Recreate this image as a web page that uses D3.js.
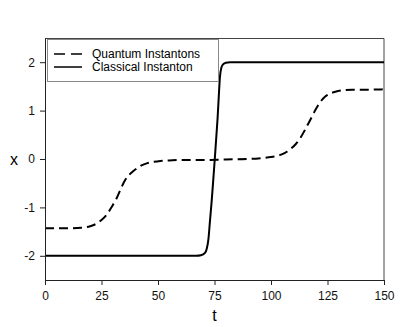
<!DOCTYPE html>
<html>
<head>
<meta charset="utf-8">
<script src="https://cdn.jsdelivr.net/npm/d3@7"></script>
<style>
  body { margin: 0; background: #fff; }
  svg { font-family: "Liberation Sans", Arial, sans-serif; }
</style>
</head>
<body>
<svg id="chart" width="418" height="327"></svg>
<script>
// values
const quantumT = [0, 10, 16, 20, 23, 25, 27.3, 29.5, 31.7, 33.5, 35.4, 37.2, 39.1, 42, 45, 48, 51, 55, 60, 70, 80, 90, 96, 100, 103, 105, 107, 109, 111, 112.8, 115, 117.3, 119.5, 121.7, 124, 126.1, 128.5, 132, 136, 140, 150];
const quantumX = [-1.43, -1.43, -1.42, -1.39, -1.33, -1.26, -1.15, -0.99, -0.81, -0.62, -0.44, -0.33, -0.25, -0.15, -0.09, -0.06, -0.04, -0.03, -0.02, -0.02, -0.01, 0.0, 0.02, 0.04, 0.07, 0.10, 0.15, 0.22, 0.31, 0.42, 0.60, 0.80, 1.00, 1.17, 1.29, 1.35, 1.39, 1.42, 1.43, 1.43, 1.44];

const classicalT = [0, 20, 40, 60, 67, 69, 70.8, 71.6, 72.3, 73, 73.8, 74.5, 75.2, 75.8, 76.4, 76.9, 77.4, 78, 78.9, 80, 81.9, 90, 110, 130, 150];
const classicalX = [-2, -2, -2, -2, -2, -1.99, -1.94, -1.85, -1.66, -1.28, -0.84, -0.40, 0.05, 0.46, 0.87, 1.30, 1.69, 1.88, 1.96, 1.99, 2, 2, 2, 2, 2];

const xTicks = [0, 25, 50, 75, 100, 125, 150];
const yTicks = [-2, -1, 0, 1, 2];
const legendLabels = ["Quantum Instantons", "Classical Instanton"];

const svg = d3.select("#chart");
const margin = {left: 45, right: 34, top: 38, bottom: 47};
const width = 418 - margin.left - margin.right;
const height = 327 - margin.top - margin.bottom;

const x = d3.scaleLinear().domain([0, 150]).range([0, width]);
const y = d3.scaleLinear().domain([-2.5, 2.5]).range([height, 0]);

const g = svg.append("g").attr("transform", `translate(${margin.left},${margin.top})`);

// frame top and right
g.append("path")
  .attr("d", `M0,0.5H${width}V${height}`)
  .attr("fill", "none")
  .attr("stroke", "#444")
  .attr("stroke-width", 1);

const line = d3.line()
  .x(d => x(d[0]))
  .y(d => y(d[1]))
  .curve(d3.curveMonotoneX);

g.append("path")
  .datum(quantumT.map((t, i) => [t, quantumX[i]]))
  .attr("d", line)
  .attr("fill", "none")
  .attr("stroke", "#000")
  .attr("stroke-width", 2)
  .attr("stroke-dasharray", "9,5");

g.append("path")
  .datum(classicalT.map((t, i) => [t, classicalX[i]]))
  .attr("d", line)
  .attr("fill", "none")
  .attr("stroke", "#000")
  .attr("stroke-width", 2);

const fmt = d => String(d);
const xAxis = g.append("g")
  .attr("transform", `translate(0,${height})`)
  .call(d3.axisBottom(x).tickValues(xTicks).tickFormat(fmt).tickSize(5).tickPadding(6).tickSizeOuter(0));
const yAxis = g.append("g")
  .call(d3.axisLeft(y).tickValues(yTicks).tickFormat(fmt).tickSize(5).tickPadding(5).tickSizeOuter(0));

[xAxis, yAxis].forEach(a => {
  a.selectAll("text").attr("font-size", 12).attr("fill", "#111").attr("font-family", "Liberation Sans, Arial, sans-serif");
  a.selectAll("line").attr("stroke", "#222");
  a.select(".domain").attr("stroke", "#222");
});

svg.append("text")
  .attr("x", margin.left + x(75))
  .attr("y", 321)
  .attr("text-anchor", "middle")
  .attr("font-size", 16)
  .text("t");

svg.append("text")
  .attr("x", 14)
  .attr("y", margin.top + y(0))
  .attr("dy", "0.35em")
  .attr("text-anchor", "middle")
  .attr("font-size", 16)
  .text("x");

// legend
const lg = g.append("g").attr("transform", "translate(2,1)");
lg.append("rect")
  .attr("x", 0.5).attr("y", 0.5)
  .attr("width", 171).attr("height", 42)
  .attr("fill", "#fff")
  .attr("stroke", "#888");

legendLabels.forEach((label, i) => {
  const ly = 15 + i * 13;
  lg.append("line")
    .attr("x1", 7).attr("x2", 35)
    .attr("y1", ly).attr("y2", ly)
    .attr("stroke", "#000")
    .attr("stroke-width", 1.5)
    .attr("stroke-dasharray", i === 0 ? "11,6" : null);
  lg.append("text")
    .attr("x", 45)
    .attr("y", ly)
    .attr("dy", "0.35em")
    .attr("font-size", 12)
    .text(label);
});
</script>
</body>
</html>
